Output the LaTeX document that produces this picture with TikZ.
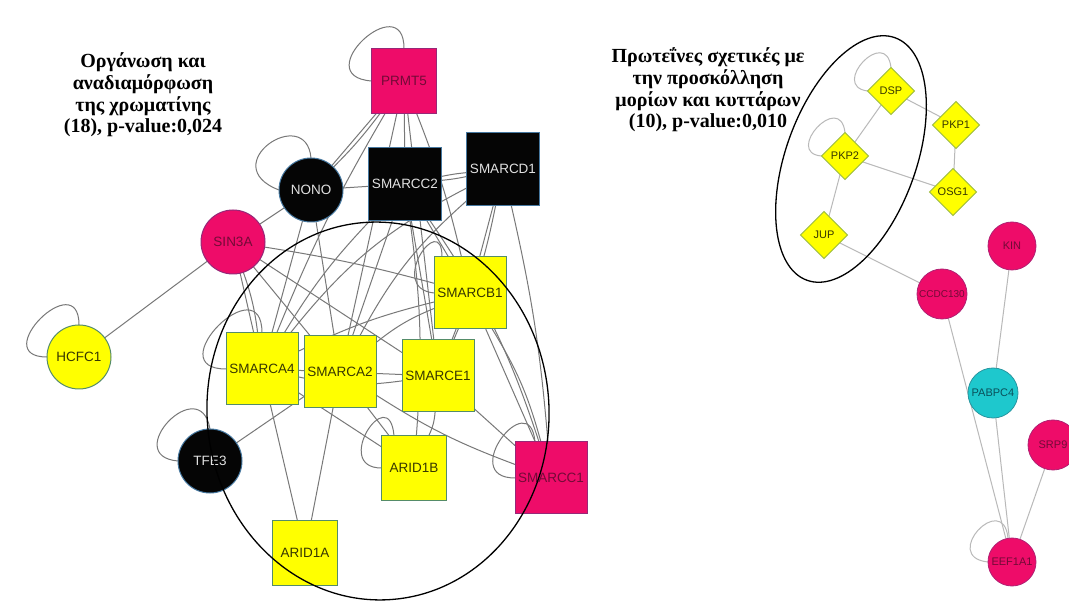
\documentclass[tikz,border=0pt]{standalone}
\usepackage{fontspec}
\setmainfont{Liberation Serif}
\newfontfamily\labfont{Liberation Sans}
\usetikzlibrary{shapes.geometric}
\pgfdeclarelayer{bg}
\pgfdeclarelayer{edges}
\pgfsetlayers{bg,edges,main}
\definecolor{mag}{RGB}{238,12,105}
\definecolor{magtxt}{RGB}{115,10,55}
\definecolor{magbd}{RGB}{150,40,120}
\definecolor{yel}{RGB}{255,255,0}
\definecolor{yelbd}{RGB}{85,140,105}
\definecolor{yeltxt}{RGB}{55,55,0}
\definecolor{blk}{RGB}{5,5,5}
\definecolor{blkbd}{RGB}{70,120,160}
\definecolor{blktxt}{RGB}{225,225,225}
\definecolor{cyn}{RGB}{30,200,205}
\definecolor{cynbd}{RGB}{40,150,160}
\definecolor{cyntxt}{RGB}{10,80,90}
\definecolor{edgegray}{RGB}{120,120,120}
\definecolor{edgelight}{RGB}{185,185,185}
\newcommand{\zl}[1]{\makebox[0pt][c]{#1}}
\begin{document}
\begin{tikzpicture}[x=1pt,y=-1pt,
  every node/.style={inner sep=0pt,outer sep=0pt},
  lfont/.style={font=\labfont\fontsize{13.5}{14}\selectfont},
  rfont/.style={font=\labfont\fontsize{11}{12}\selectfont},
  ysq/.style={lfont,rectangle,fill=yel,draw=yelbd,line width=1pt,minimum size=72pt,text=yeltxt},
  ysqs/.style={ysq,minimum size=65pt},
  bsq/.style={lfont,rectangle,fill=blk,draw=blkbd,line width=1pt,minimum size=73pt,text=blktxt},
  msq/.style={lfont,rectangle,fill=mag,draw=magbd,line width=1pt,minimum size=72pt,text=magtxt},
  bci/.style={lfont,circle,fill=blk,draw=blkbd,line width=1pt,minimum size=64pt,text=blktxt},
  mci/.style={lfont,circle,fill=mag,draw=magbd,line width=1pt,minimum size=64pt,text=magtxt},
  yci/.style={lfont,circle,fill=yel,draw=yelbd,line width=1pt,minimum size=64pt,text=yeltxt},
  ydi/.style={rfont,diamond,fill=yel,draw=yelbd!60!yel,line width=0.8pt,minimum width=47pt,minimum height=47pt,text=yeltxt},
  mcs/.style={rfont,circle,fill=mag,draw=magbd!70!mag,line width=0.8pt,minimum size=50pt,text=magtxt},
  ccs/.style={rfont,circle,fill=cyn,draw=cynbd,line width=0.8pt,minimum size=50pt,text=cyntxt},
  lk/.style={draw=edgegray,line width=1pt},
  rk/.style={draw=edgelight,line width=1pt},
  grp/.style={draw=black,line width=1.3pt},
  ttl/.style={align=center,font=\bfseries\fontsize{20}{21.7}\selectfont}
]
\useasboundingbox (0,0) rectangle (1069,601);
\begin{pgfonlayer}{bg}
\fill[white] (0,0) rectangle (1069,601);
\end{pgfonlayer}

% titles
\node[ttl] (t1) at (143,95) {Οργάνωση και\\αναδιαμόρφωση\\της χρωματίνης\\(18), p-value:0,024};
\node[ttl] (t2) at (708,90) {Πρωτεΐνες σχετικές με\\την προσκόλληση\\μορίων και κυττάρων\\(10), p-value:0,010};

% left network nodes
\node[msq,minimum size=65pt] (PRMT5) at (404,81) {\zl{PRMT5}};
\node[bci] (NONO) at (311,190) {\zl{NONO}};
\node[bsq] (SMARCC2) at (405,184) {\zl{SMARCC2}};
\node[bsq] (SMARCD1) at (503,169) {\zl{SMARCD1}};
\node[mci] (SIN3A) at (233,242) {\zl{SIN3A}};
\node[yci] (HCFC1) at (79,357) {\zl{HCFC1}};
\node[ysq] (SMARCA4) at (262,369) {\zl{SMARCA4}};
\node[ysq] (SMARCA2) at (340,372) {\zl{SMARCA2}};
\node[ysq] (SMARCE1) at (438,376) {\zl{SMARCE1}};
\node[ysq] (SMARCB1) at (470,293) {\zl{SMARCB1}};
\node[ysqs] (ARID1B) at (414,468) {\zl{ARID1B}};
\node[msq] (SMARCC1) at (551,478) {\zl{SMARCC1}};
\node[ysqs] (ARID1A) at (305,553) {\zl{ARID1A}};
\node[bci] (TFE3) at (210,461) {\zl{TFE3}};

% right network nodes
\node[ydi] (DSP) at (891,91) {\zl{DSP}};
\node[ydi] (PKP1) at (956,125) {\zl{PKP1}};
\node[ydi] (PKP2) at (845,156) {\zl{PKP2}};
\node[ydi] (OSG1) at (953,192) {\zl{OSG1}};
\node[ydi] (JUP) at (824,235) {\zl{JUP}};
\node[mcs,minimum size=48pt] (KIN) at (1012,246) {\zl{KIN}};
\node[mcs] (CCDC130) at (942,294) {\zl{\fontsize{10}{11}\selectfont CCDC130}};
\node[ccs] (PABPC4) at (993,393) {\zl{PABPC4}};
\node[mcs] (SRP9) at (1053,445) {\zl{SRP9}};
\node[mcs,minimum size=48pt] (EEF1A1) at (1012,562) {\zl{EEF1A1}};

\begin{pgfonlayer}{edges}
% left edges
\draw[lk] (PRMT5) -- (NONO);
\draw[lk] (PRMT5) to[bend left=4] (NONO);
\draw[lk] (PRMT5) -- (SMARCC2);
\draw[lk] (PRMT5) to[bend right=4] (SMARCA4);
\draw[lk] (PRMT5) -- (SMARCA2);
\draw[lk] (PRMT5) -- (SMARCE1);
\draw[lk] (PRMT5) to[bend left=4] (SMARCB1);
\draw[lk] (NONO) -- (SMARCC2);
\draw[lk] (NONO) -- (SIN3A);
\draw[lk] (NONO) -- (SMARCA4);
\draw[lk] (NONO) -- (SMARCA2);
\draw[lk] (SMARCC2) to[bend left=3] (SMARCD1);
\draw[lk] (SMARCC2) to[bend right=3] (SMARCD1);
\draw[lk] (SMARCC2) to[bend right=6] (SMARCA4);
\draw[lk] (SMARCC2) -- (SMARCA2);
\draw[lk] (SMARCC2) -- (SMARCE1);
\draw[lk] (SMARCC2) -- (SMARCB1);
\draw[lk] (SMARCC2) to[bend left=8] (SMARCC1);
\draw[lk] (SMARCC2) to[bend left=6] (ARID1B);
\draw[lk] (SMARCD1) -- (SMARCB1);
\draw[lk] (SMARCD1) to[bend left=4] (SMARCC1);
\draw[lk] (SMARCD1) to[bend right=10] (SMARCA2);
\draw[lk] (SMARCD1) to[bend right=12] (SMARCA4);
\draw[lk] (SMARCD1) to[bend left=6] (SMARCE1);
\draw[lk] (SIN3A) -- (HCFC1);
\draw[lk] (SIN3A) to[bend left=3] (SMARCB1);
\draw[lk] (SIN3A) -- (SMARCE1);
\draw[lk] (SIN3A) -- (SMARCA4);
\draw[lk] (SIN3A) to[bend left=6] (SMARCA4);
\draw[lk] (SIN3A) -- (SMARCA2);
\draw[lk] (SMARCB1) -- (SMARCE1);
\draw[lk] (SMARCB1) to[bend right=8] (SMARCA2);
\draw[lk] (SMARCB1) to[bend right=6] (SMARCA4);
\draw[lk] (SMARCB1) -- (SMARCC1);
\draw[lk] (SMARCB1) to[bend left=8] (SMARCC1);
\draw[lk] (SMARCA4) -- (SMARCA2);
\draw[lk] (SMARCA4) -- (ARID1A);
\draw[lk] (SMARCA4) to[bend right=10] (SMARCE1);
\draw[lk] (SMARCA4) -- (ARID1B);
\draw[lk] (SMARCA2) -- (SMARCE1);
\draw[lk] (SMARCA2) -- (ARID1A);
\draw[lk] (SMARCA2) -- (ARID1B);
\draw[lk] (SMARCA2) -- (TFE3);
\draw[lk] (SMARCA2) to[bend right=6] (SMARCC1);
\draw[lk] (SMARCE1) to[bend left=10] (ARID1B);
\draw[lk] (SMARCE1) -- (SMARCC1);
% left loops
\draw[lk] (PRMT5.west) .. controls +(-65,-5) and +(0,-62) .. (PRMT5.north);
\draw[lk] (NONO.north) .. controls +(-5,-55) and +(-65,-25) .. (NONO.west);
\draw[lk] (HCFC1.north) .. controls +(0,-60) and +(-60,0) .. (HCFC1.west);
\draw[lk] (SMARCA4.west) .. controls +(-68,0) and +(0,-68) .. (SMARCA4.north);
\draw[lk] (TFE3.west) .. controls +(-58,-5) and +(-10,-58) .. (TFE3.north);
\draw[lk] (ARID1B.west) .. controls +(-50,0) and +(-5,-55) .. ([xshift=-20pt]ARID1B.north);
\draw[lk] (SMARCC1.west) .. controls +(-58,0) and +(-5,-58) .. ([xshift=-16pt]SMARCC1.north);
\draw[lk] (SMARCB1.west) .. controls +(-48,-5) and +(0,-48) .. ([xshift=-28pt]SMARCB1.north);
% right edges
\draw[rk] (DSP) -- (PKP1);
\draw[rk] (DSP) -- (PKP2);
\draw[rk] (PKP1) -- (OSG1);
\draw[rk] (PKP2) -- (OSG1);
\draw[rk] (PKP2) -- (JUP);
\draw[rk] (JUP) -- (CCDC130);
\draw[rk] (KIN) -- (PABPC4);
\draw[rk] (CCDC130) -- (EEF1A1);
\draw[rk] (PABPC4) -- (EEF1A1);
\draw[rk] (SRP9) -- (EEF1A1);
% right loops
\draw[rk] (DSP.west) .. controls +(-38,-5) and +(-5,-42) .. (DSP.north);
\draw[rk] (PKP2.west) .. controls +(-38,-3) and +(-5,-42) .. (PKP2.north);
\draw[rk] (EEF1A1.west) .. controls +(-48,-5) and +(-5,-48) .. ([xshift=-4pt]EEF1A1.north);
\end{pgfonlayer}

% group outlines
\draw[grp,rotate around={3.5:(378,411)}] (378,411) ellipse [x radius=171pt,y radius=189pt];
\draw[grp,rotate around={70:(851,159)}] (851,159) ellipse [x radius=129pt,y radius=65pt];
\end{tikzpicture}
\end{document}
